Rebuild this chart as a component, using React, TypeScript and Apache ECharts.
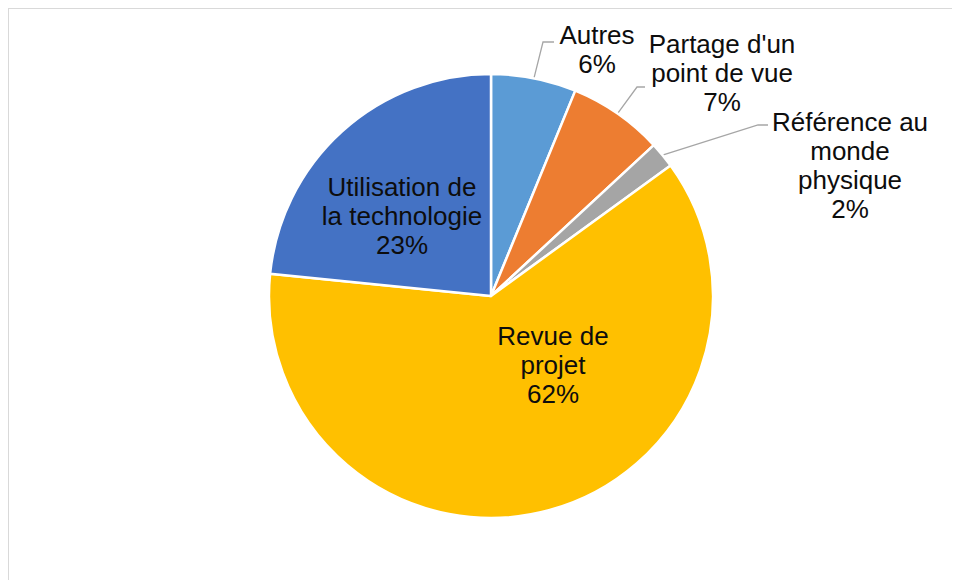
import React, { useEffect, useRef } from "react";
import * as echarts from "echarts";

const categories = [
  "Autres",
  "Partage d'un\npoint de vue",
  "Référence au\nmonde\nphysique",
  "Revue de\nprojet",
  "Utilisation de\nla technologie",
];
const values = [6.2, 6.9, 1.9, 61.6, 23.4];
const colors = ["#5B9BD5", "#ED7D31", "#A5A5A5", "#FFC000", "#4472C4"];
const insideLabel = [false, false, false, true, true];

// label anchor (centre of text block) in chart pixels
const LABEL_POS: number[][] = [
  [588, 40],
  [713, 64],
  [841, 156],
  [544, 356],
  [393, 207],
];
// leader line elbow + end for outside labels
const LEADER: (number[][] | null)[] = [
  [[534, 33], [545, 33]],
  [[628, 78], [636, 78]],
  [[749, 116], [759, 116]],
  null,
  null,
];

export default function App() {
  const ref = useRef<HTMLDivElement>(null);
  useEffect(() => {
    if (!ref.current) return;
    const chart = echarts.init(ref.current, undefined, { renderer: "svg" });
    const data = categories.map((name, i) => ({
      name,
      value: values[i],
      itemStyle: { color: colors[i] },
      label: insideLabel[i] ? { position: "inside" } : { position: "outside" },
      labelLine: { show: !insideLabel[i] },
    }));
    chart.setOption({
      animation: false,
      backgroundColor: "#ffffff",
      series: [
        {
          type: "pie",
          center: [482, 287],
          radius: 222,
          startAngle: 90,
          clockwise: true,
          avoidLabelOverlap: false,
          data,
          itemStyle: { borderColor: "#ffffff", borderWidth: 2.5 },
          label: {
            show: true,
            formatter: (p: any) => `${p.name}\n${Math.round(p.percent)}%`,
            fontFamily: "'Liberation Sans', Arial, sans-serif",
            fontSize: 26,
            lineHeight: 29,
            color: "#0d0d0d",
            align: "center",
          },
          labelLine: {
            show: true,
            lineStyle: { color: "#A6A6A6", width: 1.3 },
          },
          labelLayout: (params: any) => {
            const i = params.dataIndex;
            const pos = LABEL_POS[i];
            const res: any = {
              x: pos[0],
              y: pos[1],
              align: "center",
              verticalAlign: "middle",
            };
            const lead = LEADER[i];
            if (lead && params.labelLinePoints && params.labelLinePoints[0]) {
              res.labelLinePoints = [params.labelLinePoints[0], lead[0], lead[1]];
            }
            return res;
          },
        },
      ],
    });
    return () => chart.dispose();
  }, []);
  return (
    <div
      style={{
        width: 952,
        height: 572,
        borderTop: "1px solid #D9D9D9",
        borderLeft: "1px solid #D9D9D9",
        boxSizing: "border-box",
        overflow: "hidden",
      }}
    >
      <div ref={ref} style={{ width: 951, height: 571 }} />
    </div>
  );
}
